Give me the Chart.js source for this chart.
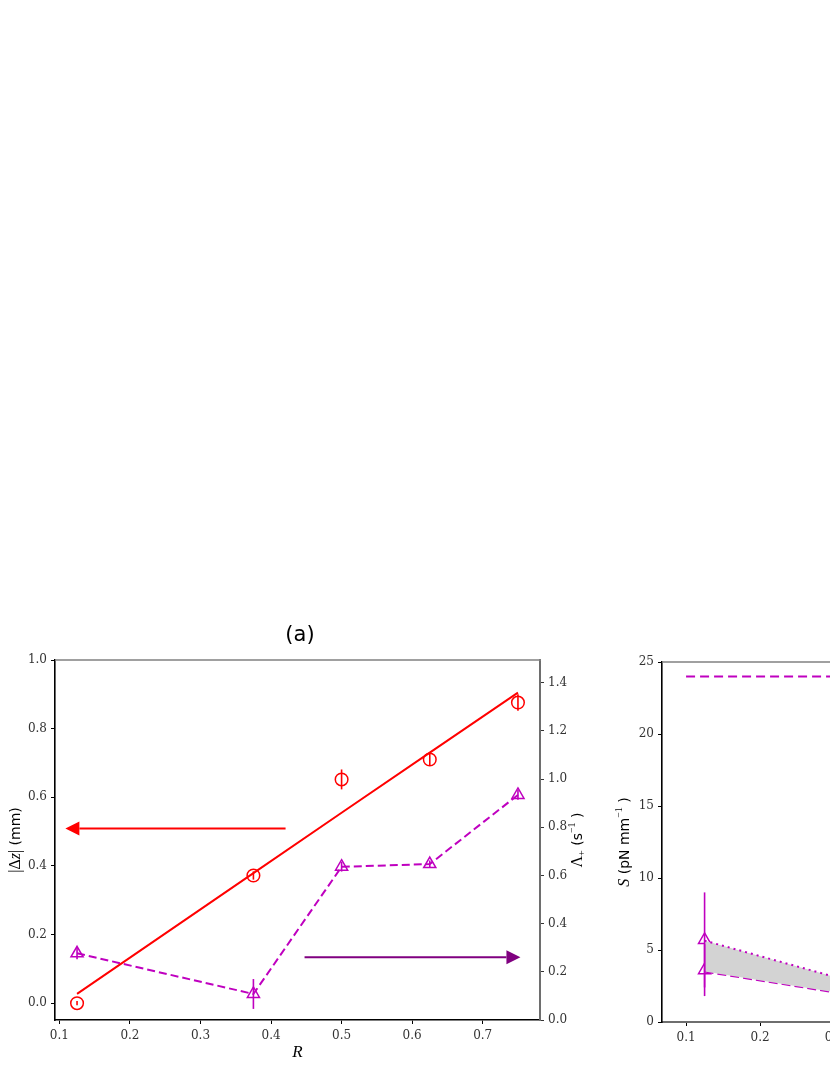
<!DOCTYPE html>
<html>
<head>
<meta charset="utf-8">
<script src="https://cdn.jsdelivr.net/npm/chart.js@4.4.1/dist/chart.umd.min.js"></script>
<style>
  html, body { margin: 0; padding: 0; background: #fff; overflow: hidden; }
  #pagina { position: relative; width: 830px; height: 1075px; overflow: hidden; }
  canvas { position: absolute; }
  #graficaA { left: 0; top: 600px; }
  #graficaB { left: 600px; top: 600px; }
</style>
</head>
<body>
<div id="pagina">
  <canvas id="graficaA" width="600" height="475"></canvas>
  <canvas id="graficaB" width="600" height="475"></canvas>
</div>
<script>
// Valores, panel (a)
var valoresR = [0.125, 0.375, 0.5, 0.625, 0.75];
var deltaZ = [0.0, 0.372, 0.652, 0.71, 0.876];
var deltaZErr = [0.006, 0.012, 0.029, 0.018, 0.024];
var ajusteDeltaZ = [0.027, 0.379, 0.555, 0.73, 0.905];
var lambdaMas = [0.277, 0.108, 0.636, 0.647, 0.934];
var lambdaMasErr = [0.025, 0.062, 0.02, 0.015, 0.02];

// flechas: [R inicio, R punta, valor en su eje]
var flechaRoja = [0.4206, 0.1085, 0.509];
var flechaMorada = [0.4475, 0.7535, 0.26];

var ticksR = [0.1, 0.2, 0.3, 0.4, 0.5, 0.6, 0.7];
var ticksDeltaZ = [0, 0.2, 0.4, 0.6, 0.8, 1.0];
var ticksLambda = [0, 0.2, 0.4, 0.6, 0.8, 1.0, 1.2, 1.4];

// Panel (b), solo la parte visible
var rTension = [0.125, 0.375];
var tensionSup = [5.65, 2.07];
var tensionInf = [3.5, 1.45];
var rPuntosTension = [0.125, 0.125];
var tensionPuntos = [5.7, 3.6];
var tensionPuntosErr = [3.3, 1.8];
var limiteR = [0.1, 0.75];
var limiteTension = [24, 24];
var ticksTension = [0, 5, 10, 15, 20, 25];

var ROJO = '#ff0000';
var MAGENTA = '#bf00bf';
var MORADO = '#800080';
var GRIS = '#808080';

var fuenteTicks = { family: '"DejaVu Serif", serif', size: 12 };

function puntos(xs, ys) {
  return xs.map(function(x, i) { return { x: x, y: ys[i] }; });
}

function ticksFijos(lista) {
  return function(scale) {
    scale.ticks = lista.map(function(v) { return { value: v }; });
  };
}

// barras de error verticales
var barrasError = {
  id: 'barrasError',
  afterDatasetsDraw: function(chart) {
    var ctx = chart.ctx;
    chart.data.datasets.forEach(function(ds) {
      if (!ds.errores) return;
      var sx = chart.scales.x;
      var sy = chart.scales[ds.yAxisID || 'y'];
      ctx.save();
      ctx.strokeStyle = ds.pointBorderColor;
      ctx.lineWidth = 1.6;
      ds.data.forEach(function(p, j) {
        var px = sx.getPixelForValue(p.x);
        ctx.beginPath();
        ctx.moveTo(px, sy.getPixelForValue(p.y - ds.errores[j]));
        ctx.lineTo(px, sy.getPixelForValue(p.y + ds.errores[j]));
        ctx.stroke();
      });
      ctx.restore();
    });
  }
};

function dibujarFlecha(ctx, x0, x1, y, color) {
  var dir = x1 > x0 ? 1 : -1;
  var largo = 14, alto = 7;
  ctx.save();
  ctx.strokeStyle = color;
  ctx.fillStyle = color;
  ctx.lineWidth = 2;
  ctx.beginPath();
  ctx.moveTo(x0, y);
  ctx.lineTo(x1 - dir * largo, y);
  ctx.stroke();
  ctx.beginPath();
  ctx.moveTo(x1, y);
  ctx.lineTo(x1 - dir * largo, y - alto);
  ctx.lineTo(x1 - dir * largo, y + alto);
  ctx.closePath();
  ctx.fill();
  ctx.restore();
}

function textoVertical(ctx, cx, cy, partes) {
  ctx.save();
  ctx.translate(cx, cy);
  ctx.rotate(-Math.PI / 2);
  ctx.fillStyle = '#000';
  ctx.textBaseline = 'alphabetic';
  var total = 0;
  partes.forEach(function(p) { ctx.font = p.f; total += ctx.measureText(p.t).width; });
  var x = -total / 2;
  partes.forEach(function(p) {
    ctx.font = p.f;
    ctx.fillText(p.t, x, 5 + (p.dy || 0));
    x += ctx.measureText(p.t).width;
  });
  ctx.restore();
}

var SERIF = '16px "Liberation Serif", serif';
var SERIF_IT = 'italic 16px "Liberation Serif", serif';
var SANS = '14px "DejaVu Sans", sans-serif';
var SUP = '10px "Liberation Serif", serif';

// borde superior gris
function bordeSuperior(chart) {
  var a = chart.chartArea, ctx = chart.ctx;
  ctx.save();
  ctx.strokeStyle = GRIS;
  ctx.lineWidth = 1.3;
  ctx.beginPath();
  ctx.moveTo(a.left, a.top);
  ctx.lineTo(a.right + 1, a.top);
  ctx.stroke();
  ctx.restore();
}

var extrasA = {
  id: 'extrasA',
  afterDraw: function(chart) {
    var ctx = chart.ctx, a = chart.chartArea;
    var sx = chart.scales.x, sy = chart.scales.y, sy2 = chart.scales.y2;
    bordeSuperior(chart);
    dibujarFlecha(ctx, sx.getPixelForValue(flechaRoja[0]), sx.getPixelForValue(flechaRoja[1]),
      sy.getPixelForValue(flechaRoja[2]), ROJO);
    dibujarFlecha(ctx, sx.getPixelForValue(flechaMorada[0]), sx.getPixelForValue(flechaMorada[1]),
      sy2.getPixelForValue(flechaMorada[2]), MORADO);
    var cy = (a.top + a.bottom) / 2;
    textoVertical(ctx, a.left - 40, cy, [
      { t: '|\u0394', f: SERIF }, { t: 'z', f: SERIF_IT }, { t: '|', f: SERIF }, { t: ' (mm)', f: SANS }
    ]);
    textoVertical(ctx, a.right + 37, cy, [
      { t: '\u039B', f: SERIF }, { t: '+', f: SUP, dy: 3 }, { t: ' (s', f: SANS },
      { t: '\u22121', f: SUP, dy: -7 }, { t: ' )', f: SANS }
    ]);
  }
};

var extrasB = {
  id: 'extrasB',
  afterDraw: function(chart) {
    var a = chart.chartArea;
    bordeSuperior(chart);
    textoVertical(chart.ctx, a.left - 38, (a.top + a.bottom) / 2, [
      { t: 'S', f: SERIF_IT }, { t: ' (pN mm', f: SANS },
      { t: '\u22121', f: SUP, dy: -7 }, { t: ' )', f: SANS }
    ]);
  }
};

var ctxA = document.getElementById('graficaA').getContext('2d');
var ctxB = document.getElementById('graficaB').getContext('2d');

var graficaA = new Chart(ctxA, {
  type: 'scatter',
  data: {
    datasets: [
      {
        data: puntos(valoresR, deltaZ),
        errores: deltaZErr,
        yAxisID: 'y',
        showLine: false,
        pointStyle: 'circle',
        pointRadius: 6.3,
        pointBorderWidth: 1.5,
        pointBorderColor: ROJO,
        pointBackgroundColor: 'rgba(0,0,0,0)'
      },
      {
        data: puntos(valoresR, ajusteDeltaZ),
        yAxisID: 'y',
        showLine: true,
        borderColor: ROJO,
        borderWidth: 2,
        pointRadius: 0
      },
      {
        data: puntos(valoresR, lambdaMas),
        errores: lambdaMasErr,
        yAxisID: 'y2',
        showLine: true,
        borderColor: MAGENTA,
        borderWidth: 2,
        borderDash: [8, 4],
        pointStyle: 'triangle',
        pointRadius: 7,
        pointBorderWidth: 1.5,
        pointBorderColor: MAGENTA,
        pointBackgroundColor: 'rgba(0,0,0,0)'
      }
    ]
  },
  options: {
    responsive: false,
    devicePixelRatio: 1,
    animation: false,
    layout: { padding: 0 },
    plugins: {
      legend: { display: false },
      tooltip: { enabled: false },
      title: {
        display: true,
        text: '(a)',
        color: '#000',
        font: { family: '"DejaVu Sans", sans-serif', size: 21, weight: 'normal', lineHeight: 1.2 },
        padding: { top: 23, bottom: 11.8 }
      }
    },
    scales: {
      x: {
        type: 'linear',
        min: 0.09375,
        max: 0.78125,
        afterBuildTicks: ticksFijos(ticksR),
        afterFit: function(s) { s.height = 55; },
        ticks: { font: fuenteTicks, color: '#333', padding: 5, callback: function(v) { return v.toFixed(1); } },
        grid: { drawOnChartArea: false, drawTicks: true, tickLength: 4, color: '#000' },
        border: { display: true, color: '#000', width: 1.6 },
        title: {
          display: true,
          text: 'R',
          color: '#000',
          font: { family: '"Liberation Serif", serif', style: 'italic', size: 17, lineHeight: 1.2 },
          padding: { top: 0, bottom: 12.5 }
        }
      },
      y: {
        type: 'linear',
        position: 'left',
        min: -0.049,
        max: 1.0,
        afterBuildTicks: ticksFijos(ticksDeltaZ),
        afterFit: function(s) { s.width = 55; },
        ticks: { font: fuenteTicks, color: '#333', padding: 4, callback: function(v) { return v.toFixed(1); } },
        grid: { drawOnChartArea: false, drawTicks: true, tickLength: 4, color: '#000' },
        border: { display: true, color: '#000', width: 1.6 }
      },
      y2: {
        type: 'linear',
        position: 'right',
        min: 0,
        max: 1.494,
        afterBuildTicks: ticksFijos(ticksLambda),
        afterFit: function(s) { s.width = 60; },
        ticks: { font: fuenteTicks, color: '#333', padding: 4, callback: function(v) { return v.toFixed(1); } },
        grid: { drawOnChartArea: false, drawTicks: true, tickLength: 4, color: '#333' },
        border: { display: true, color: '#6e6e6e', width: 2 }
      }
    }
  },
  plugins: [barrasError, extrasA]
});

var graficaB = new Chart(ctxB, {
  type: 'scatter',
  data: {
    datasets: [
      {
        data: puntos(rTension, tensionSup),
        showLine: true,
        borderColor: MAGENTA,
        borderWidth: 2,
        borderDash: [2, 4],
        pointRadius: 0,
        fill: '+1',
        backgroundColor: '#d3d3d3'
      },
      {
        data: puntos(rTension, tensionInf),
        showLine: true,
        borderColor: MAGENTA,
        borderWidth: 2,
        borderDash: [9, 4],
        pointRadius: 0
      },
      {
        data: puntos(limiteR, limiteTension),
        showLine: true,
        borderColor: MAGENTA,
        borderWidth: 2,
        borderDash: [9, 5],
        pointRadius: 0
      },
      {
        data: puntos(rPuntosTension, tensionPuntos),
        errores: tensionPuntosErr,
        showLine: false,
        pointStyle: 'triangle',
        pointRadius: 7,
        pointBorderWidth: 1.5,
        pointBorderColor: MAGENTA,
        pointBackgroundColor: 'rgba(0,0,0,0)'
      }
    ]
  },
  options: {
    responsive: false,
    devicePixelRatio: 1,
    animation: false,
    layout: { padding: { top: 62 } },
    plugins: {
      legend: { display: false },
      tooltip: { enabled: false }
    },
    scales: {
      x: {
        type: 'linear',
        min: 0.0675,
        max: 0.7825,
        afterBuildTicks: ticksFijos(ticksR),
        afterFit: function(s) { s.height = 53; },
        ticks: { font: fuenteTicks, color: '#333', padding: 5, callback: function(v) { return v.toFixed(1); } },
        grid: { drawOnChartArea: false, drawTicks: true, tickLength: 4, color: '#000' },
        border: { display: true, color: '#6e6e6e', width: 2 },
        title: {
          display: true,
          text: 'R',
          color: '#000',
          font: { family: '"Liberation Serif", serif', style: 'italic', size: 17, lineHeight: 1.2 },
          padding: { top: 0, bottom: 11 }
        }
      },
      y: {
        type: 'linear',
        position: 'left',
        min: 0,
        max: 25,
        afterBuildTicks: ticksFijos(ticksTension),
        afterFit: function(s) { s.width = 62; },
        ticks: { font: fuenteTicks, color: '#333', padding: 4 },
        grid: { drawOnChartArea: false, drawTicks: true, tickLength: 4, color: '#000' },
        border: { display: true, color: '#000', width: 1.6 }
      }
    }
  },
  plugins: [barrasError, extrasB]
});
</script>
</body>
</html>
